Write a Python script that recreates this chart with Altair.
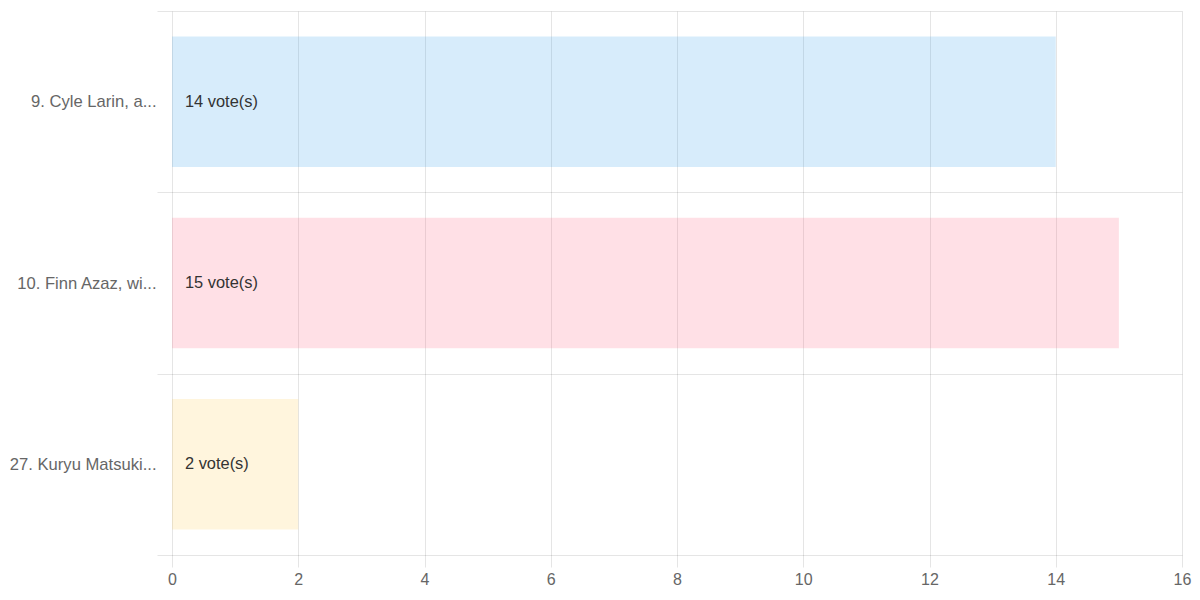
import altair as alt
import pandas as pd

# datos
nombres = ["9. Cyle Larin, a...", "10. Finn Azaz, wi...", "27. Kuryu Matsuki..."]
votos = [14, 15, 2]
etiquetas = ["14 vote(s)", "15 vote(s)", "2 vote(s)"]
x_ticks = [0, 2, 4, 6, 8, 10, 12, 14, 16]

colores = ["rgba(54,162,235,0.2)", "rgba(255,99,132,0.2)", "rgba(255,206,86,0.2)"]

df = pd.DataFrame({"nombre": nombres, "votos": votos, "etiqueta": etiquetas})

grid = "rgba(0,0,0,0.1)"
fuente = "Arial, Liberation Sans"

y_enc = alt.Y(
    "nombre:N",
    sort=None,
    title=None,
    scale=alt.Scale(paddingInner=0, paddingOuter=0),
    axis=alt.Axis(
        grid=True, gridColor=grid, tickBand="extent", ticks=True, tickSize=15,
        tickColor=grid, domain=False, labelPadding=1, labelFont=fuente,
        labelFontSize=16.6, labelColor="#666666", labelLimit=300,
    ),
)

barras = alt.Chart(df).mark_bar(height={"band": 0.72}).encode(
    x=alt.X(
        "votos:Q",
        title=None,
        scale=alt.Scale(domain=[0, 16], nice=False),
        axis=alt.Axis(
            values=x_ticks, format="d", grid=True, gridColor=grid, tickSize=12,
            tickColor=grid, domain=False, labelPadding=4, labelFlush=False,
            labelFont=fuente, labelFontSize=16, labelColor="#666666",
        ),
    ),
    y=y_enc,
    color=alt.Color("nombre:N", sort=None, scale=alt.Scale(domain=nombres, range=colores), legend=None),
)

textos = alt.Chart(df).mark_text(
    align="left", baseline="middle", dx=13, font=fuente, fontSize=16.4, color="#333333"
).encode(
    x=alt.datum(0),
    y=alt.Y("nombre:N", sort=None),
    text="etiqueta:N",
)

chart = (barras + textos).properties(
    width=1010,
    height=544,
    autosize=alt.AutoSizeParams(type="none"),
    padding={"left": 164, "top": 3, "right": 10, "bottom": 37},
).configure_view(strokeWidth=0)

chart.save("out.html", embed_options={"renderer": "svg", "actions": False})
